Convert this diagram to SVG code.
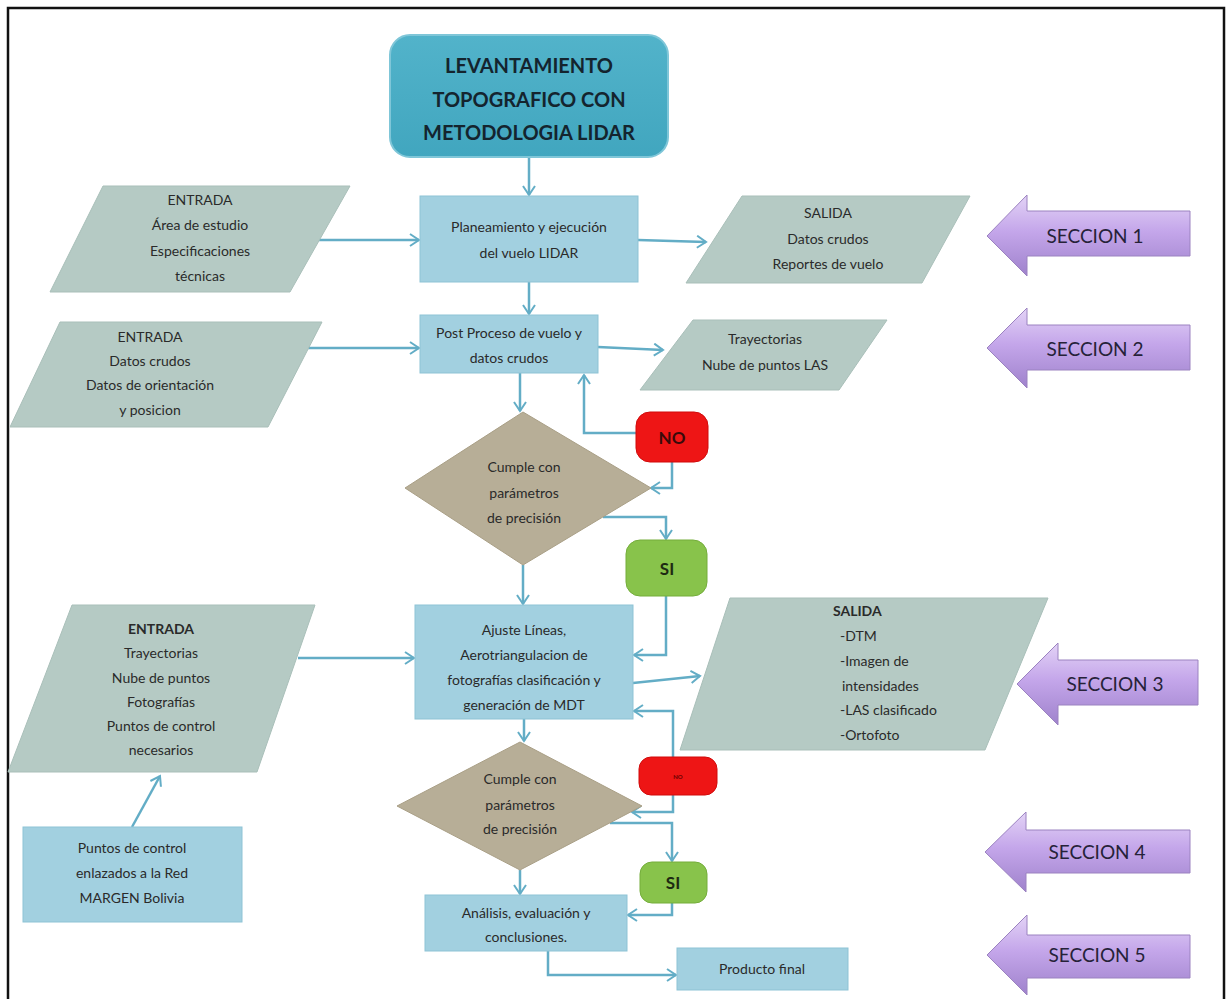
<svg xmlns="http://www.w3.org/2000/svg" width="1228" height="999" viewBox="0 0 1228 999">
<defs>
<style>
.t{font-family:Lato,"Open Sans","Liberation Sans",sans-serif;font-size:14px;fill:#2a2a2a;text-anchor:middle}
.b{font-weight:bold}
.title{font-family:Lato,"Open Sans","Liberation Sans",sans-serif;font-size:20px;font-weight:bold;fill:#14242e;text-anchor:middle}
.sec{font-family:Lato,"Open Sans","Liberation Sans",sans-serif;font-size:19px;fill:#262238;text-anchor:middle}
.box{fill:#a2d0e0;stroke:#8ec3d5;stroke-width:1}
.par{fill:#b5cac4;stroke:#a9bfb9;stroke-width:1}
.dia{fill:#b7ae97;stroke:#a99f86;stroke-width:1}
.no{fill:#ee1515;stroke:#d10b0b;stroke-width:1}
.si{fill:#88c34b;stroke:#74ad3b;stroke-width:1}
.sa{fill:url(#pg);stroke:#9b82c0;stroke-width:1}
.c{fill:none;stroke:#63adc6;stroke-width:2.5;marker-end:url(#ah)}
</style>
<linearGradient id="pg" x1="0" y1="0" x2="0" y2="1">
<stop offset="0" stop-color="#e3d3f6"/>
<stop offset="0.45" stop-color="#c4a6ea"/>
<stop offset="1" stop-color="#9f82cc"/>
</linearGradient>
<linearGradient id="tg" x1="0" y1="0" x2="0" y2="1">
<stop offset="0" stop-color="#52b3ca"/>
<stop offset="1" stop-color="#41a6bf"/>
</linearGradient>
<marker id="ah" markerWidth="14" markerHeight="14" refX="10" refY="7" orient="auto" markerUnits="userSpaceOnUse">
<path d="M1,1 L10,7 L1,13" fill="none" stroke="#63adc6" stroke-width="2"/>
</marker>
</defs>
<rect x="0" y="0" width="1228" height="999" fill="#ffffff"/>
<rect x="8" y="8" width="1216" height="1005" fill="none" stroke="#111" stroke-width="2.5"/>

<g id="connectors">
<path class="c" d="M529,157 V195"/>
<path class="c" d="M318,240 H419"/>
<path class="c" d="M638,240 L706,242"/>
<path class="c" d="M529,282 V314"/>
<path class="c" d="M298,348 H419"/>
<path class="c" d="M598,347 L663,350"/>
<path class="c" d="M520,373 V411"/>
<path class="c" d="M636,433 H584 V375"/>
<path class="c" d="M672,462 V488 H651"/>
<path class="c" d="M603,517 H666 V539"/>
<path class="c" d="M666,596 V655 H634"/>
<path class="c" d="M523,565 V604"/>
<path class="c" d="M298,658 H414"/>
<path class="c" d="M132,827 L160,776"/>
<path class="c" d="M633,683 L700,676"/>
<path class="c" d="M524,719 V741"/>
<path class="c" d="M673,757 V711 H634"/>
<path class="c" d="M673,795 V812 H632"/>
<path class="c" d="M610,823 H672 V861"/>
<path class="c" d="M672,903 V915 H628"/>
<path class="c" d="M520,870 V894"/>
<path class="c" d="M548,951 V975 H676"/>
</g>

<g id="title">
<rect x="390" y="35" width="278" height="122" rx="20" fill="url(#tg)" stroke="#7fc6d8" stroke-width="2"/>
<text class="title" x="529" y="73">LEVANTAMIENTO</text>
<text class="title" x="529" y="107">TOPOGRAFICO CON</text>
<text class="title" x="529" y="140">METODOLOGIA LIDAR</text>
</g>

<g id="entrada1">
<polygon class="par" points="103,186 350,186 290,292 50,292"/>
<text class="t" x="200" y="205">ENTRADA</text>
<text class="t" x="200" y="230">Área de estudio</text>
<text class="t" x="200" y="256">Especificaciones</text>
<text class="t" x="200" y="281">técnicas</text>
</g>

<g id="planeamiento">
<rect class="box" x="420" y="196" width="218" height="86"/>
<text class="t" x="529" y="232">Planeamiento y ejecución</text>
<text class="t" x="529" y="258">del vuelo LIDAR</text>
</g>

<g id="salida1">
<polygon class="par" points="742,196 970,196 922,283 686,283"/>
<text class="t" x="828" y="218">SALIDA</text>
<text class="t" x="828" y="244">Datos crudos</text>
<text class="t" x="828" y="269">Reportes de vuelo</text>
</g>

<g id="seccion1">
<path class="sa" d="M987,236 L1027,195 L1027,211 L1190,211 L1190,256 L1027,256 L1027,276 Z"/>
<text class="sec" x="1095" y="243">SECCION 1</text>
</g>

<g id="entrada2">
<polygon class="par" points="60,322 322,322 268,427 10,427"/>
<text class="t" x="150" y="342">ENTRADA</text>
<text class="t" x="150" y="366">Datos crudos</text>
<text class="t" x="150" y="390">Datos de orientación</text>
<text class="t" x="150" y="415">y posicion</text>
</g>

<g id="postproceso">
<rect class="box" x="420" y="315" width="178" height="58"/>
<text class="t" x="509" y="338">Post Proceso de vuelo y</text>
<text class="t" x="509" y="363">datos crudos</text>
</g>

<g id="trayectorias">
<polygon class="par" points="693,320 887,320 839,390 640,390"/>
<text class="t" x="765" y="344">Trayectorias</text>
<text class="t" x="765" y="370">Nube de puntos LAS</text>
</g>

<g id="seccion2">
<path class="sa" d="M987,348 L1027,308 L1027,325 L1190,325 L1190,370 L1027,370 L1027,388 Z"/>
<text class="sec" x="1095" y="356">SECCION 2</text>
</g>

<g id="decision1">
<polygon class="dia" points="523,412 651,488 523,565 405,488"/>
<text class="t" x="524" y="472">Cumple con</text>
<text class="t" x="524" y="498">parámetros</text>
<text class="t" x="524" y="523">de precisión</text>
</g>

<g id="no1">
<rect class="no" x="636" y="412" width="72" height="50" rx="14"/>
<text class="t b" x="672" y="444" style="font-size:17px;fill:#3a0a0a">NO</text>
</g>

<g id="si1">
<rect class="si" x="626" y="540" width="81" height="56" rx="14"/>
<text class="t b" x="667" y="575" style="font-size:17px;fill:#1e2a12">SI</text>
</g>

<g id="entrada3">
<polygon class="par" points="72,605 315,605 257,772 8,772"/>
<text class="t b" x="161" y="634">ENTRADA</text>
<text class="t" x="161" y="658">Trayectorias</text>
<text class="t" x="161" y="683">Nube de puntos</text>
<text class="t" x="161" y="707">Fotografías</text>
<text class="t" x="161" y="731">Puntos de control</text>
<text class="t" x="161" y="755">necesarios</text>
</g>

<g id="ajuste">
<rect class="box" x="415" y="605" width="218" height="114"/>
<text class="t" x="524" y="635">Ajuste Líneas,</text>
<text class="t" x="524" y="660">Aerotriangulacion de</text>
<text class="t" x="524" y="685">fotografías clasificación y</text>
<text class="t" x="524" y="710">generación de MDT</text>
</g>

<g id="salida3">
<polygon class="par" points="730,598 1048,598 985,750 680,750"/>
<text class="t b" x="833" y="616" style="text-anchor:start">SALIDA</text>
<text class="t" x="840" y="641" style="text-anchor:start">-DTM</text>
<text class="t" x="840" y="666" style="text-anchor:start">-Imagen de</text>
<text class="t" x="842" y="691" style="text-anchor:start">intensidades</text>
<text class="t" x="840" y="715" style="text-anchor:start">-LAS clasificado</text>
<text class="t" x="840" y="740" style="text-anchor:start">-Ortofoto</text>
</g>

<g id="seccion3">
<path class="sa" d="M1017,684 L1058,643 L1058,660 L1198,660 L1198,705 L1058,705 L1058,725 Z"/>
<text class="sec" x="1115" y="691">SECCION 3</text>
</g>

<g id="puntoscontrol">
<rect class="box" x="23" y="827" width="219" height="95"/>
<text class="t" x="132" y="853">Puntos de control</text>
<text class="t" x="132" y="878">enlazados a la Red</text>
<text class="t" x="132" y="903">MARGEN Bolivia</text>
</g>

<g id="decision2">
<polygon class="dia" points="520,742 642,806 520,870 397,806"/>
<text class="t" x="520" y="784">Cumple con</text>
<text class="t" x="520" y="810">parámetros</text>
<text class="t" x="520" y="834">de precisión</text>
</g>

<g id="no2">
<rect class="no" x="639" y="757" width="78" height="38" rx="12"/>
<text class="t b" x="678" y="779" style="font-size:6px;fill:#6a0000">NO</text>
</g>

<g id="si2">
<rect class="si" x="640" y="862" width="67" height="41" rx="12"/>
<text class="t b" x="673" y="889" style="font-size:17px;fill:#1e2a12">SI</text>
</g>

<g id="seccion4">
<path class="sa" d="M985,852 L1026,812 L1026,830 L1190,830 L1190,873 L1026,873 L1026,892 Z"/>
<text class="sec" x="1097" y="859">SECCION 4</text>
</g>

<g id="analisis">
<rect class="box" x="425" y="895" width="202" height="56"/>
<text class="t" x="526" y="918">Análisis, evaluación y</text>
<text class="t" x="526" y="942">conclusiones.</text>
</g>

<g id="producto">
<rect class="box" x="677" y="948" width="171" height="42"/>
<text class="t" x="762" y="974">Producto final</text>
</g>

<g id="seccion5">
<path class="sa" d="M987,955 L1027,915 L1027,935 L1190,935 L1190,978 L1027,978 L1027,995 Z"/>
<text class="sec" x="1097" y="962">SECCION 5</text>
</g>
</svg>
